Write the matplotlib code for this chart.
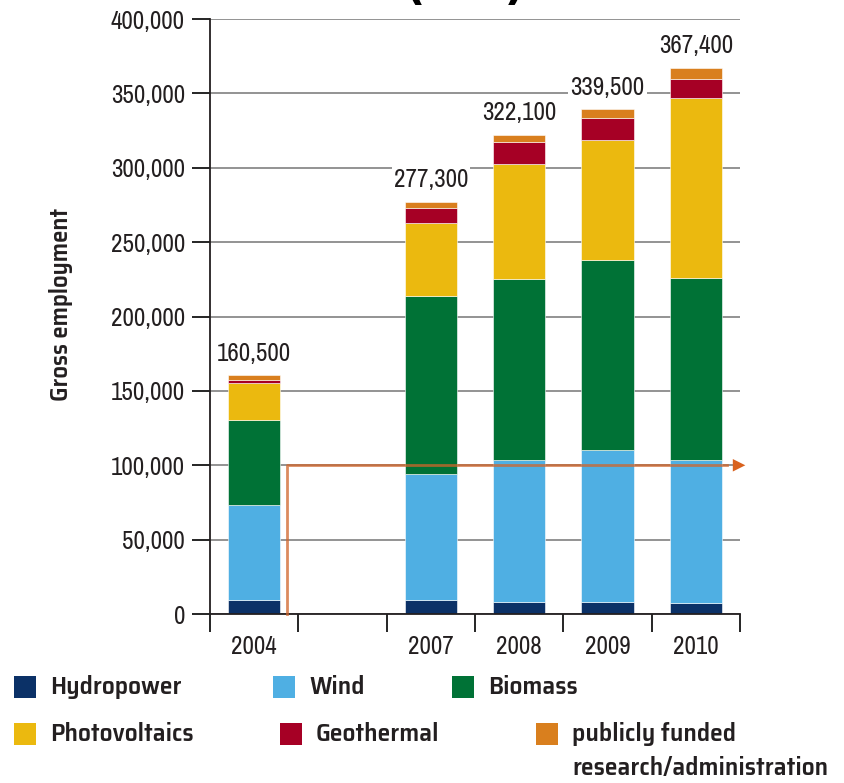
import numpy as np
import matplotlib
matplotlib.use("Agg")
import matplotlib.pyplot as plt
from matplotlib.patches import Rectangle

# data
years = ["2004", "", "2007", "2008", "2009", "2010"]
hydropower = [9500, 0, 9400, 7800, 7800, 7600]
wind = [63900, 0, 84700, 95900, 102200, 96100]
biomass = [56800, 0, 119700, 121500, 128200, 122000]
photovoltaics = [25100, 0, 48800, 77500, 80200, 120900]
geothermal = [1800, 0, 10300, 14800, 14900, 13300]
research = [3400, 0, 4400, 4600, 6200, 7500]
totals = [160500, None, 277300, 322100, 339500, 367400]
yticks = [0, 50000, 100000, 150000, 200000, 250000, 300000, 350000, 400000]

series = [
    ("Hydropower", hydropower, "#0b3167"),
    ("Wind", wind, "#4fafe3"),
    ("Biomass", biomass, "#007236"),
    ("Photovoltaics", photovoltaics, "#ebb90f"),
    ("Geothermal", geothermal, "#a60025"),
    ("publicly funded\nresearch/administration", research, "#d97f1e"),
]

NARROW = ["Archivo Narrow", "Roboto Condensed", "DejaVu Sans"]
BOLD = ["Saira SemiCondensed", "Roboto Condensed", "DejaVu Sans"]
plt.rcParams["font.family"] = NARROW
TXT = "#231f20"

fig = plt.figure(figsize=(8.44, 7.83), dpi=100)
ax = fig.add_axes([0.2488, 0.2158, 0.628, 0.7599])

x = np.arange(len(years))
bottom = np.zeros(len(years))
for name, vals, col in series:
    vals = np.array(vals, dtype=float)
    ax.bar(x, vals, width=0.59, bottom=bottom, color=col, edgecolor="white",
           linewidth=0.4, zorder=2)
    bottom += vals

# totals above bars
for i, t in enumerate(totals):
    if t is None:
        continue
    ax.text(x[i], bottom[i] + 7000, f"{t:,}", ha="center", va="bottom",
            fontsize=18, color=TXT, zorder=2.2,
            bbox=dict(facecolor="white", edgecolor="none", pad=1.5))

# orange marker line at 100,000
ax.plot([0.37, 0.37, 5.35], [0, 100000, 100000], color="#d0652a", lw=2,
        alpha=0.75, zorder=3, clip_on=False)
ax.annotate("", xy=(5.56, 100000), xytext=(5.3, 100000),
            arrowprops=dict(arrowstyle="-|>,head_length=0.9,head_width=0.45",
                            color="#d9621e", lw=0, shrinkA=0, shrinkB=0),
            annotation_clip=False, zorder=3)

ax.set_xlim(-0.5, 5.5)
ax.set_ylim(0, 400000)
ax.set_yticks(yticks)
ax.set_yticklabels([f"{v:,}" for v in yticks], fontsize=18, color=TXT)
ax.yaxis.grid(True, color="#8a8a8a", lw=1.3, zorder=0)
ax.set_axisbelow(True)
ax.tick_params(axis="y", length=13, width=1.2, pad=5)

ax.set_xticks(x)
ax.set_xticklabels(years, fontsize=18, color=TXT)
ax.set_xticks(np.arange(-0.5, 6.0, 1.0), minor=True)
ax.tick_params(axis="x", which="major", length=0, pad=15)
ax.tick_params(axis="x", which="minor", length=13, width=1.2)

for s in ["top", "right"]:
    ax.spines[s].set_visible(False)
for s in ["left", "bottom"]:
    ax.spines[s].set_linewidth(1.3)
    ax.spines[s].set_color(TXT)

ax.set_ylabel("Gross employment", fontsize=18, fontweight=600, family=BOLD,
              color=TXT)
ax.yaxis.set_label_coords(-0.258, 0.521)

# partially visible heading at the very top
fig.text(0.550, 1.017, "(1-9)", ha="center", va="center", fontsize=32,
         fontweight="bold", family=["DejaVu Sans"])

# legend drawn by hand to match the two-row layout
W, H = 844.0, 783.0
legend_pos = [(14, 676), (273, 676), (452, 676), (14, 723), (280, 723), (536, 723)]
for (name, vals, col), (px, py) in zip(series, legend_pos):
    fig.patches.append(Rectangle((px / W, 1 - (py + 22) / H), 22 / W, 22 / H,
                                 transform=fig.transFigure, facecolor=col,
                                 edgecolor="none"))
    if "\n" in name:
        fig.text((px + 36) / W, 1 - (py - 1) / H, name, ha="left", va="top",
                 fontsize=18.5, fontweight=600, family=BOLD, color=TXT,
                 linespacing=1.5)
    else:
        fig.text((px + 36) / W, 1 - (py + 11) / H, name, ha="left",
                 va="center", fontsize=18.5, fontweight=600, family=BOLD,
                 color=TXT)

fig.savefig("out.png", dpi=100)
